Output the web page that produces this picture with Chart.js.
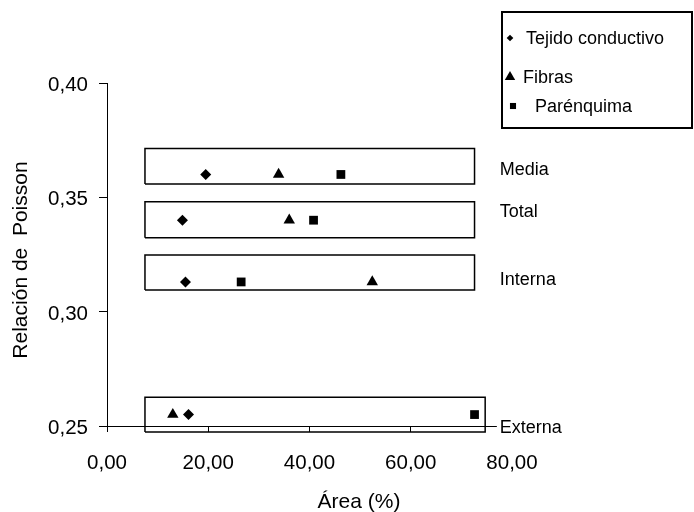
<!DOCTYPE html>
<html>
<head>
<meta charset="utf-8">
<script src="https://cdn.jsdelivr.net/npm/chart.js@4.4.1/dist/chart.umd.min.js"></script>
<style>
  html, body { margin: 0; padding: 0; background: #fff; }
  #wrap { width: 694px; height: 512px; }
</style>
</head>
<body>
<div id="wrap"><canvas id="chart" width="694" height="512"></canvas></div>
<script>
// rows of the chart
const categories = ["Media", "Total", "Interna", "Externa"];
const poisson = [0.36, 0.34, 0.313, 0.255];

// area (%) of each tissue per row
const tejidoArea = [19.5, 14.9, 15.5, 16.1];
const fibrasArea = [33.9, 36.0, 52.4, 13.0];
const parenquimaArea = [46.2, 40.8, 26.5, 72.6];

const xTicks = [0, 20, 40, 60, 80];
const yTicks = [0.25, 0.30, 0.35, 0.40];

// frame drawn around each row
const boxXMin = [7.5, 7.5, 7.5, 7.5];
const boxXMax = [72.6, 72.6, 72.6, 74.7];
const boxYMin = [0.3558, 0.3323, 0.3095, 0.2474];
const boxYMax = [0.3714, 0.3481, 0.3248, 0.2626];

const FONT = '"Liberation Sans", Arial, sans-serif';
Chart.defaults.font.family = FONT;
Chart.defaults.color = "#000";

const fmt = v => v.toFixed(2).replace(".", ",");

function pointSet(label, xs, style, r) {
  return {
    type: "scatter",
    label: label,
    data: xs.map((x, i) => ({ x: x, y: poisson[i] })),
    pointStyle: style,
    pointRadius: r,
    pointHoverRadius: r,
    pointBackgroundColor: "#000",
    pointBorderColor: "#000",
    pointBorderWidth: 0,
    order: 1
  };
}

function boxSet(i) {
  const x0 = boxXMin[i], x1 = boxXMax[i], y0 = boxYMin[i], y1 = boxYMax[i];
  return {
    type: "line",
    label: "box " + categories[i],
    data: [{ x: x0, y: y0 }, { x: x1, y: y0 }, { x: x1, y: y1 }, { x: x0, y: y1 }, { x: x0, y: y0 }],
    borderColor: "#000",
    borderWidth: 1.5,
    pointRadius: 0,
    fill: false,
    tension: 0,
    clip: false,
    borderJoinStyle: "miter",
    order: 2
  };
}

const pointSets = [
  pointSet("Tejido conductivo", tejidoArea, "rectRot", 5.5),
  pointSet("Fibras", fibrasArea, "triangle", 6.6),
  pointSet("Parénquima", parenquimaArea, "rect", 6.2)
];

// row names beside the frames, and the legend box
const rowLabelX = 77.6;
const rowLabelY = [0.362, 0.3436, 0.3138, 0.2491];
const legendItems = [
  { y: 38, mx: 510, tx: 526, r: 3.3 },
  { y: 77, mx: 510, tx: 523, r: 6 },
  { y: 106, mx: 513, tx: 535, r: 4.3 }
];

const decor = {
  id: "decor",
  afterDraw(chart) {
    const ctx = chart.ctx;
    const xs = chart.scales.x, ys = chart.scales.y;
    ctx.save();
    ctx.fillStyle = "#000";

    // row labels
    ctx.font = "18px " + FONT;
    ctx.textBaseline = "middle";
    ctx.textAlign = "left";
    categories.forEach((c, i) => {
      const px = xs.getPixelForValue(rowLabelX);
      const py = ys.getPixelForValue(rowLabelY[i]);
      const w = ctx.measureText(c).width;
      ctx.fillStyle = "#fff";
      ctx.fillRect(px - 3, py - 9, w + 6, 18);
      ctx.fillStyle = "#000";
      ctx.fillText(c, px, py);
    });

    // axis titles
    ctx.font = "21px " + FONT;
    ctx.textAlign = "center";
    ctx.fillText("Área (%)", 359, 502);
    ctx.save();
    ctx.translate(21, 260);
    ctx.rotate(-Math.PI / 2);
    ctx.fillText("Relación de  Poisson", 0, 0);
    ctx.restore();

    // legend
    ctx.strokeStyle = "#000";
    ctx.lineWidth = 2;
    ctx.strokeRect(502, 12, 190, 116);
    ctx.font = "18px " + FONT;
    ctx.textAlign = "left";
    pointSets.forEach((ds, i) => {
      const it = legendItems[i];
      ctx.fillStyle = "#000";
      Chart.helpers.drawPoint(ctx, { pointStyle: ds.pointStyle, radius: it.r, rotation: 0, borderWidth: 0 }, it.mx, it.y);
      ctx.fillText(ds.label, it.tx, it.y + 1);
    });
    ctx.restore();
  }
};

new Chart(document.getElementById("chart"), {
  data: {
    datasets: pointSets.concat(categories.map((c, i) => boxSet(i)))
  },
  options: {
    responsive: false,
    animation: false,
    events: [],
    layout: { padding: { left: 0, right: 182, top: 83, bottom: 0 } },
    plugins: { legend: { display: false }, tooltip: { enabled: false } },
    scales: {
      x: {
        type: "linear",
        min: 0, max: 80,
        afterBuildTicks: s => { s.ticks = xTicks.map(v => ({ value: v })); },
        afterFit: s => { s.height = 86; },
        grid: { drawOnChartArea: false, drawTicks: true, tickLength: 6, color: "#000", lineWidth: 1 },
        border: { color: "#000", width: 1 },
        ticks: { font: { size: 20.5 }, color: "#000", padding: 19, maxRotation: 0, autoSkip: false, callback: v => fmt(v) }
      },
      y: {
        type: "linear",
        min: 0.25, max: 0.40,
        afterBuildTicks: s => { s.ticks = yTicks.map(v => ({ value: v })); },
        afterFit: s => { s.width = 107; },
        grid: { drawOnChartArea: false, drawTicks: true, tickLength: 8, color: "#000", lineWidth: 1 },
        border: { color: "#000", width: 1 },
        ticks: { font: { size: 20.5 }, color: "#000", padding: 11, labelOffset: 2.5, autoSkip: false, callback: v => fmt(v) }
      }
    }
  },
  plugins: [decor]
});
</script>
</body>
</html>
